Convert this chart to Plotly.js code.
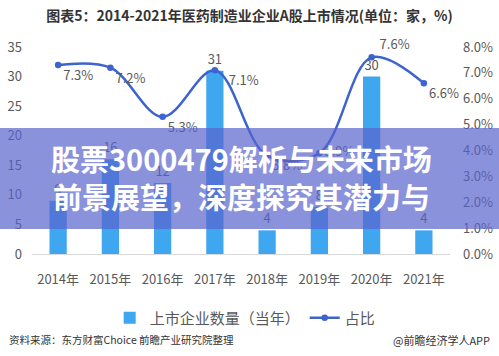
<!DOCTYPE html>
<html>
<head>
<meta charset="utf-8">
<script src="https://cdn.plot.ly/plotly-3.0.1.min.js"></script>
<style>
html,body{margin:0;padding:0;background:#fff;}
#chart{width:499px;height:356px;}
</style>
</head>
<body>
<div id="chart"></div>
<script>
var years = ["2014年","2015年","2016年","2017年","2018年","2019年","2020年","2021年"];
var listedCount = [9, 16, 12, 31, 4, 8, 30, 4];
var sharePct = [7.3, 7.2, 5.3, 7.1, 3.8, 3.9, 7.6, 6.6];
var shareLabelPos = ["bottom right","bottom right","bottom right","bottom right","bottom right","middle right","top right","bottom right"];
var shareLabelPad = [0, 0, 0, 3, 0, 0, 1, 0];
var leftTicks = [0,5,10,15,20,25,30,35];
var rightTicks = [0,1,2,3,4,5,6,7,8];

var cjk = "Noto Sans CJK SC, Noto Sans, sans-serif";
var grey = "#595959";

var traces = [
  {
    type: "bar",
    name: "上市企业数量（当年）",
    x: years,
    y: listedCount,
    width: 0.33,
    marker: {color: "#3FA6F0"},
    text: listedCount.map(String),
    textposition: "outside",
    textfont: {family: cjk, size: 13, color: grey},
    cliponaxis: false,
    hoverinfo: "none"
  },
  {
    type: "scatter",
    mode: "lines+markers+text",
    name: "占比",
    x: years,
    y: sharePct,
    yaxis: "y2",
    line: {color: "#3D64CE", width: 2.5, shape: "spline", smoothing: 1},
    marker: {color: "#3D64CE", size: 6.5},
    text: sharePct.map(function(v, i){
      return "\u00a0".repeat(shareLabelPad[i]) + v.toFixed(1) + "%";
    }),
    textposition: shareLabelPos,
    textfont: {family: cjk, size: 13, color: grey},
    cliponaxis: false,
    hoverinfo: "none"
  }
];

var layout = {
  width: 499,
  height: 356,
  margin: {l: 32, r: 49, t: 47, b: 102},
  paper_bgcolor: "#ffffff",
  plot_bgcolor: "#ffffff",
  font: {family: cjk, color: grey},
  showlegend: true,
  title: {
    text: "<b>图表5：2014-2021年医药制造业企业A股上市情况(单位：家，%)</b>",
    font: {family: cjk, size: 14, color: "#333333"},
    x: 0.5, xanchor: "center",
    y: 0.955, yanchor: "middle"
  },
  xaxis: {
    type: "category",
    showgrid: false,
    zeroline: false,
    showline: true,
    linecolor: "#d9d9d9",
    linewidth: 1,
    ticks: "",
    ticklabelstandoff: 13,
    tickfont: {family: cjk, size: 13, color: grey},
    fixedrange: true
  },
  yaxis: {
    range: [0, 35],
    tickvals: leftTicks,
    showgrid: false,
    zeroline: false,
    showline: false,
    ticks: "",
    ticklabelstandoff: 9,
    tickfont: {family: cjk, size: 13, color: grey},
    fixedrange: true
  },
  yaxis2: {
    overlaying: "y",
    side: "right",
    range: [0, 8],
    tickvals: rightTicks,
    ticktext: rightTicks.map(function(v){return v.toFixed(1) + "%";}),
    showgrid: false,
    zeroline: false,
    showline: false,
    ticks: "",
    ticklabelstandoff: 12,
    tickfont: {family: cjk, size: 13, color: grey},
    fixedrange: true
  },
  legend: {
    orientation: "h",
    x: 0.51, xanchor: "center",
    y: -0.309, yanchor: "middle",
    font: {family: cjk, size: 15, color: grey},
    itemwidth: 30,
    tracegroupgap: 0,
    bgcolor: "rgba(0,0,0,0)"
  },
  shapes: [
    {
      type: "rect", xref: "paper", yref: "paper",
      x0: -0.09, x1: 1.13, y0: 0.121, y1: 0.609,
      fillcolor: "rgba(90,100,205,0.7)",
      line: {width: 0},
      layer: "above"
    }
  ],
  annotations: [
    {
      xref: "paper", yref: "paper",
      x: 0.5, y: 0.37, xanchor: "center", yanchor: "middle",
      text: "<b>股票3000479解析与未来市场<br>前景展望，深度探究其潜力与</b>",
      showarrow: false,
      align: "center",
      font: {family: cjk, size: 29, color: "#ffffff"}
    },
    {
      xref: "paper", yref: "paper",
      x: -0.06, y: -0.415, xanchor: "left", yanchor: "middle",
      text: "资料来源：东方财富Choice 前瞻产业研究院整理",
      showarrow: false,
      font: {family: cjk, size: 10.5, color: "#333333"}
    },
    {
      xref: "paper", yref: "paper",
      x: 1.1005, y: -0.415, xanchor: "right", yanchor: "middle",
      text: "@前瞻经济学人APP",
      showarrow: false,
      font: {family: cjk, size: 11, color: "#333333"}
    }
  ]
};

Plotly.newPlot("chart", traces, layout, {displayModeBar: false, staticPlot: true});
</script>
</body>
</html>
